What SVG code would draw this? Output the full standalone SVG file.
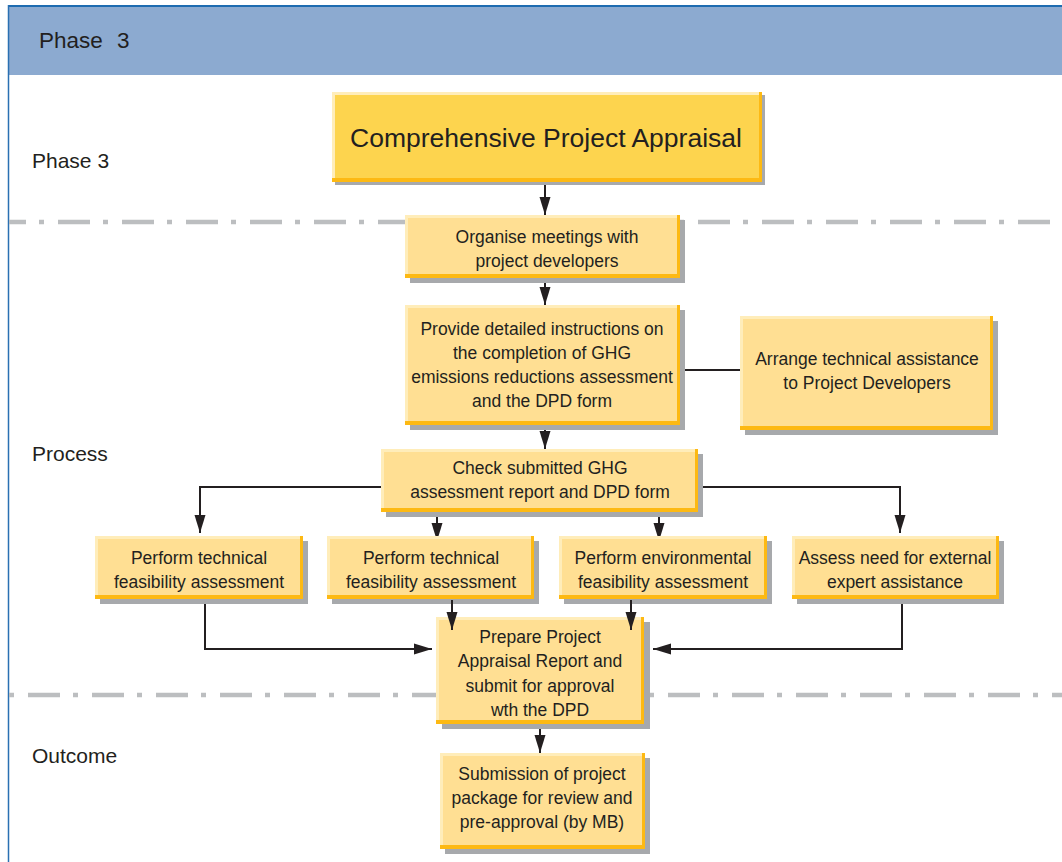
<svg xmlns="http://www.w3.org/2000/svg" width="1062" height="862" viewBox="0 0 1062 862">
<defs>
<style>
text{font-family:"Liberation Sans",Arial,sans-serif;fill:#231F20}
.bt{font-size:17.5px;text-anchor:middle}
.lbl{font-size:21px}
.sh{fill:#A7A9AC}
.or{fill:#FDB913}
.hl{fill:#FFEDBA}
.fl{fill:#FFDF93}
.mfl{fill:#FDD44E}
.dd{stroke:#BCBEC0;stroke-width:4.5;stroke-dasharray:32 13 5 14;fill:none}
.cn{stroke:#231F20;stroke-width:2;fill:none}
</style>
<marker id="ah" markerUnits="userSpaceOnUse" markerWidth="18" markerHeight="12" refX="18" refY="6" orient="auto">
<path d="M0,0.5 L18,6 L0,11.5 Z" fill="#231F20"/>
</marker>
</defs>
<rect x="0" y="0" width="1062" height="862" fill="#FFFFFF"/>
<g id="frame">
<rect x="8" y="6" width="1054" height="69" fill="#8CAAD0"/>
<line x1="8" y1="6" x2="1062" y2="6" stroke="#1E6BB0" stroke-width="2"/>
<line x1="8.5" y1="5" x2="8.5" y2="862" stroke="#2A70B2" stroke-width="1.5"/>
<text x="39" y="48" style="font-size:22.5px">Phase <tspan x="117">3</tspan></text>
<line class="dd" x1="9" y1="222" x2="1062" y2="222" stroke-dashoffset="15"/>
<line class="dd" x1="9" y1="695" x2="1062" y2="695" stroke-dashoffset="45"/>
<text class="lbl" x="32" y="168">Phase 3</text>
<text class="lbl" x="32" y="461">Process</text>
<text class="lbl" x="32" y="763">Outcome</text>
</g>
<g id="connectors">
<path class="cn" d="M545 182 V215" marker-end="url(#ah)"/>
<path class="cn" d="M545 278 V305" marker-end="url(#ah)"/>
<path class="cn" d="M545 425 V449" marker-end="url(#ah)"/>
<path class="cn" d="M680 370 H740"/>
<path class="cn" d="M381 487 H200 V533" marker-end="url(#ah)"/>
<path class="cn" d="M698 487 H900 V533" marker-end="url(#ah)"/>
<path class="cn" d="M437 512 V541" marker-end="url(#ah)"/>
<path class="cn" d="M659 512 V541" marker-end="url(#ah)"/>
<path class="cn" d="M205 600 V649 H432" marker-end="url(#ah)"/>
<path class="cn" d="M902 600 V649 H653" marker-end="url(#ah)"/>
<path class="cn" d="M540 724 V753" marker-end="url(#ah)"/>
</g>
<g id="n-main">
<rect class="sh" x="335" y="95" width="430" height="90"/>
<rect class="or" x="332" y="92" width="430" height="90"/>
<rect class="hl" x="332" y="92" width="427" height="86"/>
<rect class="mfl" x="335" y="95" width="424" height="83"/>
<text x="546" y="147" style="font-size:26.5px;text-anchor:middle">Comprehensive Project Appraisal</text>
</g>
<g id="n-organise">
<rect class="sh" x="410" y="220" width="275" height="63"/>
<rect class="or" x="405" y="215" width="275" height="63"/>
<rect class="hl" x="405" y="215" width="272" height="59"/>
<rect class="fl" x="408" y="218" width="269" height="56"/>
<text class="bt" x="547" y="243">Organise meetings with</text>
<text class="bt" x="547" y="267">project developers</text>
</g>
<g id="n-provide">
<rect class="sh" x="410" y="310" width="275" height="120"/>
<rect class="or" x="405" y="305" width="275" height="120"/>
<rect class="hl" x="405" y="305" width="272" height="116"/>
<rect class="fl" x="408" y="308" width="269" height="113"/>
<text class="bt" x="542" y="335">Provide detailed instructions on</text>
<text class="bt" x="542" y="359">the completion of GHG</text>
<text class="bt" x="542" y="383">emissions reductions assessment</text>
<text class="bt" x="542" y="407">and the DPD form</text>
</g>
<g id="n-arrange">
<rect class="sh" x="745" y="321" width="253" height="114"/>
<rect class="or" x="740" y="316" width="253" height="114"/>
<rect class="hl" x="740" y="316" width="250" height="110"/>
<rect class="fl" x="743" y="319" width="247" height="107"/>
<text class="bt" x="867" y="365">Arrange technical assistance</text>
<text class="bt" x="867" y="389">to Project Developers</text>
</g>
<g id="n-check">
<rect class="sh" x="386" y="454" width="317" height="63"/>
<rect class="or" x="381" y="449" width="317" height="63"/>
<rect class="hl" x="381" y="449" width="314" height="59"/>
<rect class="fl" x="384" y="452" width="311" height="56"/>
<text class="bt" x="540" y="474">Check submitted GHG</text>
<text class="bt" x="540" y="498">assessment report and DPD form</text>
</g>
<g id="n-tech1">
<rect class="sh" x="100" y="541" width="208" height="63"/>
<rect class="or" x="95" y="536" width="208" height="63"/>
<rect class="hl" x="95" y="536" width="205" height="59"/>
<rect class="fl" x="98" y="539" width="202" height="56"/>
<text class="bt" x="199" y="564">Perform technical</text>
<text class="bt" x="199" y="588">feasibility assessment</text>
</g>
<g id="n-tech2">
<rect class="sh" x="332" y="541" width="207" height="63"/>
<rect class="or" x="327" y="536" width="207" height="63"/>
<rect class="hl" x="327" y="536" width="204" height="59"/>
<rect class="fl" x="330" y="539" width="201" height="56"/>
<text class="bt" x="431" y="564">Perform technical</text>
<text class="bt" x="431" y="588">feasibility assessment</text>
</g>
<g id="n-env">
<rect class="sh" x="564" y="541" width="208" height="63"/>
<rect class="or" x="559" y="536" width="208" height="63"/>
<rect class="hl" x="559" y="536" width="205" height="59"/>
<rect class="fl" x="562" y="539" width="202" height="56"/>
<text class="bt" x="663" y="564">Perform environmental</text>
<text class="bt" x="663" y="588">feasibility assessment</text>
</g>
<g id="n-expert">
<rect class="sh" x="797" y="541" width="207" height="63"/>
<rect class="or" x="792" y="536" width="207" height="63"/>
<rect class="hl" x="792" y="536" width="204" height="59"/>
<rect class="fl" x="795" y="539" width="201" height="56"/>
<text class="bt" x="895" y="564">Assess need for external</text>
<text class="bt" x="895" y="588">expert assistance</text>
</g>
<g id="n-prepare">
<rect class="sh" x="442" y="622" width="208" height="107"/>
<rect class="or" x="436" y="617" width="208" height="107"/>
<rect class="hl" x="436" y="617" width="205" height="103"/>
<rect class="fl" x="439" y="620" width="202" height="100"/>
<text class="bt" x="540" y="643">Prepare Project</text>
<text class="bt" x="540" y="667">Appraisal Report and</text>
<text class="bt" x="540" y="692">submit for approval</text>
<text class="bt" x="540" y="716">wth the DPD</text>
</g>
<g id="connectors-top">
<path class="cn" d="M452 600 V630" marker-end="url(#ah)"/>
<path class="cn" d="M631 600 V630" marker-end="url(#ah)"/>
</g>
<g id="n-submission">
<rect class="sh" x="445" y="758" width="205" height="96"/>
<rect class="or" x="440" y="753" width="205" height="96"/>
<rect class="hl" x="440" y="753" width="202" height="92"/>
<rect class="fl" x="443" y="756" width="199" height="89"/>
<text class="bt" x="542" y="780">Submission of project</text>
<text class="bt" x="542" y="804">package for review and</text>
<text class="bt" x="542" y="828">pre-approval (by MB)</text>
</g>
</svg>
